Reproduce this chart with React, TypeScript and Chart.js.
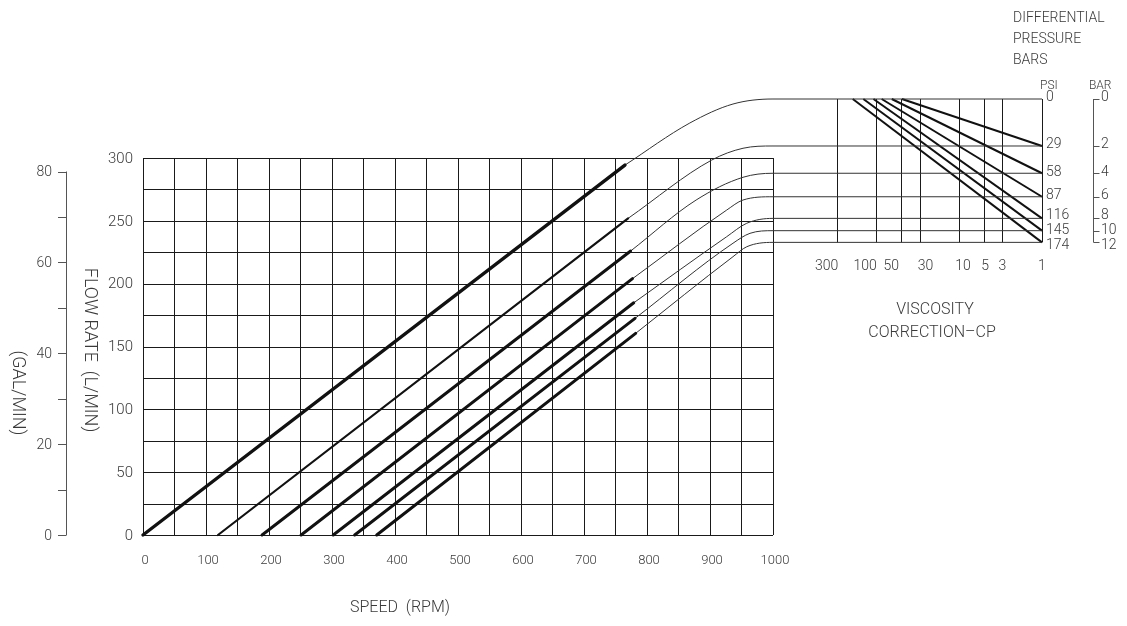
import React, { useEffect, useRef } from "react";
import { Chart, registerables } from "chart.js";
Chart.register(...registerables);

// ---------- data ----------
const SPEED_TICKS = [0, 100, 200, 300, 400, 500, 600, 700, 800, 900, 1000];
const FLOW_TICKS = [0, 50, 100, 150, 200, 250, 300];
const GAL_TICKS = [0, 20, 40, 60, 80];
const GAL_MINOR = [10, 30, 50, 70];
const VISCOSITY_TICKS = [300, 100, 50, 30, 10, 5, 3, 1];
const PSI_LABELS = ["0", "29", "58", "87", "116", "145", "174"];
const BAR_LABELS = ["0", "2", "4", "6", "8", "10", "12"];

// flow vs speed lines (one per differential pressure)
const LINE_START_RPM = [0, 119, 189, 251, 302, 336, 371];
const LINE_END_RPM = [765, 770, 774, 777, 779, 781, 782];
const LINE_END_FLOW = [294.4, 252, 226, 204, 184.8, 172.4, 160.5];

// connecting curves (speed, flow-equivalent height)
const CURVE_RPM = [
  [868, 936.5],
  [902.7, 952.4],
  [878, 952.4],
  [926.5, 952.4],
  [926.5, 958.3],
  [936.5, 963.5],
  [936.5, 958.3],
];
const CURVE_FLOW = [
  [327.9, 343.0],
  [298.4, 307.8],
  [266.6, 284.7],
  [258.6, 266.6],
  [237.4, 248.1],
  [232.2, 240.1],
  [221.5, 229.4],
];
// height of each pressure level on the right-hand panel
const PRESSURE_LEVEL = [347, 309.6, 287.9, 269.2, 252.0, 242.2, 232.9];
// viscosity (cP) where each pressure's correction line leaves the top
const VISC_START = [0, 49, 65, 86, 108, 143, 192];

// ---------- layout / style ----------
const W = 1127;
const H = 626;
const X_MAX = 1427;
const Y_MAX = 347;
const XV_MAX = Math.pow(10, 10.846);
const GAL_MAX = 95.96;
const LINE_W = [3.4, 2.2, 3, 3, 3, 3, 3];
const INK = "#1a1a1a";
const TEXT = "#3a3a3a";
const FONT = (s: number) => `300 ${s}px Roboto, "DejaVu Sans", sans-serif`;
const VISC_LABEL_DX = [-10, -11, -10, 6, 4, 1, 0, 0];
const PSI_LABEL_DY = [-2, -1, -1, -1, -3, 0, 3];

const overlay = {
  id: "overlay",
  beforeDatasetsDraw(chart: any) {
    const ctx: CanvasRenderingContext2D = chart.ctx;
    const x = chart.scales.x;
    const xv = chart.scales.xv;
    const y = chart.scales.y;
    const yg = chart.scales.ygal;
    const r = (v: number) => Math.round(v) + 0.5;
    ctx.save();
    ctx.strokeStyle = INK;
    ctx.lineWidth = 1;
    // main grid
    ctx.beginPath();
    for (let v = 0; v <= 1000; v += 50) {
      const px = r(x.getPixelForValue(v));
      ctx.moveTo(px, y.getPixelForValue(0));
      ctx.lineTo(px, y.getPixelForValue(300));
    }
    for (let f = 0; f <= 300; f += 25) {
      const py = r(y.getPixelForValue(f));
      ctx.moveTo(x.getPixelForValue(0), py);
      ctx.lineTo(x.getPixelForValue(1000), py);
    }
    // viscosity panel verticals
    const top = y.getPixelForValue(PRESSURE_LEVEL[0]);
    const bot = y.getPixelForValue(PRESSURE_LEVEL[PRESSURE_LEVEL.length - 1]);
    VISCOSITY_TICKS.forEach((v) => {
      const px = r(xv.getPixelForValue(v));
      ctx.moveTo(px, top);
      ctx.lineTo(px, bot);
    });
    ctx.stroke();

    // GAL/MIN axis
    ctx.strokeStyle = "#555";
    ctx.beginPath();
    const gx = 66.5;
    ctx.moveTo(gx, yg.getPixelForValue(0));
    ctx.lineTo(gx, yg.getPixelForValue(80));
    [...GAL_TICKS, ...GAL_MINOR].forEach((g) => {
      const py = r(yg.getPixelForValue(g));
      ctx.moveTo(58, py);
      ctx.lineTo(gx, py);
    });
    // BAR bracket
    const bx = 1093.5;
    ctx.moveTo(bx, top);
    ctx.lineTo(bx, bot);
    PRESSURE_LEVEL.forEach((lv) => {
      const py = r(y.getPixelForValue(lv));
      ctx.moveTo(bx, py);
      ctx.lineTo(bx + 6, py);
    });
    ctx.stroke();

    // texts
    ctx.fillStyle = TEXT;
    ctx.textBaseline = "middle";
    ctx.textAlign = "right";
    ctx.font = FONT(14);
    GAL_TICKS.forEach((g) => ctx.fillText(String(g), 52, yg.getPixelForValue(g) + 1));
    ctx.font = FONT(15);
    FLOW_TICKS.forEach((f) => ctx.fillText(String(f), 133, y.getPixelForValue(f) + 1));
    ctx.textAlign = "center";
    ctx.font = FONT(13);
    SPEED_TICKS.forEach((s) => ctx.fillText(String(s), x.getPixelForValue(s) + 2, 561));
    ctx.font = FONT(14);
    VISCOSITY_TICKS.forEach((v, i) =>
      ctx.fillText(String(v), xv.getPixelForValue(v) + VISC_LABEL_DX[i], 266)
    );
    ctx.textAlign = "left";
    PSI_LABELS.forEach((p, i) =>
      ctx.fillText(p, 1046, y.getPixelForValue(PRESSURE_LEVEL[i]) + PSI_LABEL_DY[i])
    );
    BAR_LABELS.forEach((b, i) =>
      ctx.fillText(b, 1101, y.getPixelForValue(PRESSURE_LEVEL[i]) + PSI_LABEL_DY[i])
    );
    ctx.font = FONT(12);
    ctx.fillText("PSI", 1040, 86);
    ctx.fillText("BAR", 1089, 86);

    ctx.font = FONT(14);
    ctx.fillText("DIFFERENTIAL", 1013, 18);
    ctx.fillText("PRESSURE", 1013, 39);
    ctx.fillText("BARS", 1013, 60);
    ctx.textAlign = "center";
    ctx.font = FONT(16);
    ctx.fillText("SPEED  (RPM)", 400, 608);
    ctx.fillText("VISCOSITY", 935, 310);
    ctx.fillText("CORRECTION\u2013CP", 932, 333);

    ctx.font = FONT(18);
    ctx.save();
    ctx.translate(89, 350);
    ctx.rotate(Math.PI / 2);
    ctx.fillText("FLOW RATE  (L/MIN)", 0, 0);
    ctx.restore();
    ctx.save();
    ctx.translate(17, 393);
    ctx.rotate(Math.PI / 2);
    ctx.fillText("(GAL/MIN)", 0, 0);
    ctx.restore();
    ctx.restore();
  },
};

export default function App() {
  const ref = useRef<HTMLCanvasElement>(null);
  useEffect(() => {
    if (!ref.current) return;
    const datasets: any[] = [];
    LINE_START_RPM.forEach((s, i) => {
      datasets.push({
        data: [
          { x: s, y: 0 },
          { x: LINE_END_RPM[i], y: LINE_END_FLOW[i] },
        ],
        borderColor: "#111",
        borderWidth: LINE_W[i],
        borderCapStyle: "round",
        pointRadius: 0,
        tension: 0,
        clip: false,
        xAxisID: "x",
        yAxisID: "y",
      });
      datasets.push({
        data: [
          { x: LINE_END_RPM[i], y: LINE_END_FLOW[i] },
          ...CURVE_RPM[i].map((c, j) => ({ x: c, y: CURVE_FLOW[i][j] })),
          { x: 1000, y: PRESSURE_LEVEL[i] },
          { x: X_MAX, y: PRESSURE_LEVEL[i] },
        ],
        borderColor: "#333",
        borderWidth: 1,
        pointRadius: 0,
        cubicInterpolationMode: "monotone",
        clip: false,
        xAxisID: "x",
        yAxisID: "y",
      });
      if (i > 0) {
        datasets.push({
          data: [
            { x: VISC_START[i], y: PRESSURE_LEVEL[0] },
            { x: 1, y: PRESSURE_LEVEL[i] },
          ],
          borderColor: "#111",
          borderWidth: 2,
          pointRadius: 0,
          tension: 0,
          clip: false,
          xAxisID: "xv",
          yAxisID: "y",
        });
      }
    });
    const chart = new Chart(ref.current, {
      type: "line",
      data: { datasets },
      options: {
        animation: false,
        responsive: false,
        devicePixelRatio: 1,
        layout: { padding: { left: 143, right: W - 1042, top: 99, bottom: H - 535 } },
        plugins: { legend: { display: false }, tooltip: { enabled: false } },
        scales: {
          x: { type: "linear", min: 0, max: X_MAX, display: false },
          xv: { type: "logarithmic", min: 1, max: XV_MAX, reverse: true, display: false },
          y: { type: "linear", min: 0, max: Y_MAX, display: false },
          ygal: { type: "linear", min: 0, max: GAL_MAX, display: false },
        },
      },
      plugins: [overlay],
    } as any);
    return () => chart.destroy();
  }, []);
  return (
    <div style={{ position: "absolute", left: 0, top: 0, width: W, height: H, background: "#fff" }}>
      <canvas ref={ref} width={W} height={H} style={{ width: W, height: H }} />
    </div>
  );
}
